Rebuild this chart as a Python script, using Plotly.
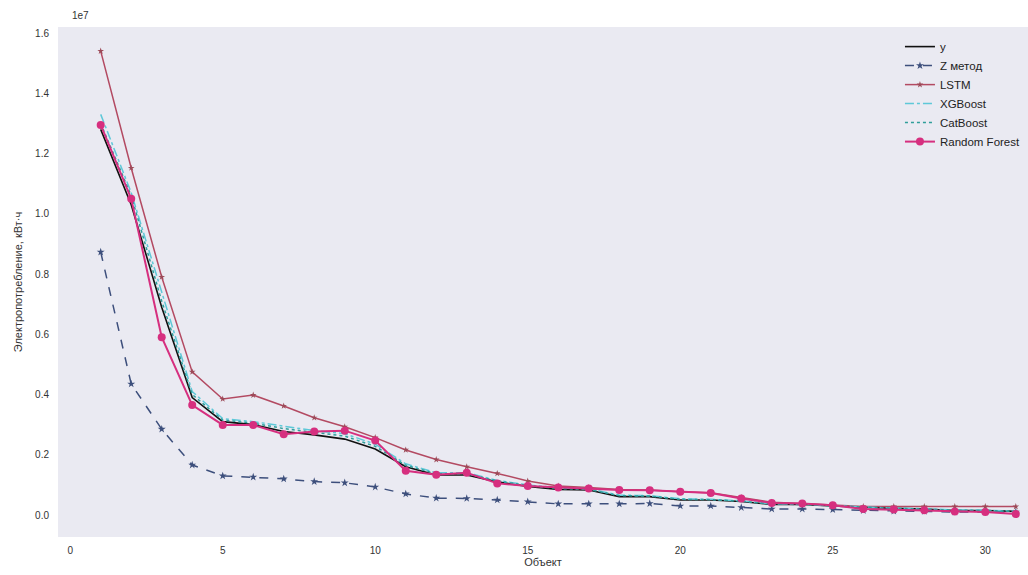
import plotly.graph_objects as go

# Electricity consumption per object, values in units of 1e7 kWh
objects = list(range(1, 32))

y_true = [1.28, 1.03, 0.69, 0.39, 0.31, 0.30, 0.277, 0.266, 0.252, 0.219, 0.16,
          0.133, 0.133, 0.11, 0.095, 0.085, 0.083, 0.061, 0.061, 0.05, 0.05,
          0.045, 0.035, 0.035, 0.03, 0.025, 0.022, 0.02, 0.015, 0.015, 0.012]

z_method = [0.873, 0.435, 0.285, 0.166, 0.13, 0.126, 0.12, 0.111, 0.107, 0.093,
            0.07, 0.056, 0.055, 0.05, 0.044, 0.037, 0.037, 0.037, 0.038, 0.03,
            0.03, 0.025, 0.02, 0.02, 0.018, 0.015, 0.013, 0.012, 0.01, 0.01, 0.01]

lstm = [1.54, 1.152, 0.79, 0.475, 0.385, 0.398, 0.362, 0.323, 0.293, 0.257,
        0.216, 0.184, 0.16, 0.138, 0.113, 0.096, 0.091, 0.085, 0.083, 0.077,
        0.074, 0.058, 0.042, 0.038, 0.033, 0.028, 0.028, 0.028, 0.028, 0.028, 0.028]

xgboost = [1.33, 1.07, 0.74, 0.41, 0.32, 0.31, 0.295, 0.28, 0.27, 0.235, 0.17,
           0.14, 0.14, 0.115, 0.1, 0.09, 0.087, 0.066, 0.064, 0.054, 0.052,
           0.047, 0.037, 0.036, 0.031, 0.026, 0.023, 0.021, 0.017, 0.016, 0.013]

catboost = [1.30, 1.06, 0.71, 0.40, 0.315, 0.305, 0.287, 0.274, 0.262, 0.228,
            0.165, 0.137, 0.137, 0.113, 0.098, 0.088, 0.085, 0.064, 0.063, 0.052,
            0.051, 0.046, 0.036, 0.035, 0.03, 0.025, 0.022, 0.02, 0.016, 0.015, 0.012]

random_forest = [1.295, 1.05, 0.59, 0.365, 0.299, 0.299, 0.268, 0.277, 0.28, 0.247,
                 0.147, 0.134, 0.14, 0.105, 0.096, 0.091, 0.088, 0.083, 0.082, 0.077,
                 0.073, 0.055, 0.04, 0.038, 0.032, 0.02, 0.018, 0.016, 0.012, 0.01, 0.003]

y_ticks = [0.0, 0.2, 0.4, 0.6, 0.8, 1.0, 1.2, 1.4, 1.6]
x_ticks = [0, 5, 10, 15, 20, 25, 30]

FONT = "Liberation Sans, Arial, sans-serif"

fig = go.Figure()

fig.add_trace(go.Scatter(x=objects, y=y_true, name="y", mode="lines",
                         line=dict(color="#111111", width=1.6)))
fig.add_trace(go.Scatter(x=objects, y=z_method, name="Z метод", mode="lines+markers",
                         line=dict(color="#3d4f7c", width=1.5, dash="dash"),
                         marker=dict(symbol="star", size=6, color="#3d4f7c")))
fig.add_trace(go.Scatter(x=objects, y=lstm, name="LSTM", mode="lines+markers",
                         line=dict(color="#b34a62", width=1.5),
                         marker=dict(symbol="star", size=5, color="#9c4a58")))
fig.add_trace(go.Scatter(x=objects, y=xgboost, name="XGBoost", mode="lines",
                         line=dict(color="#5ec8d8", width=1.5, dash="dashdot")))
fig.add_trace(go.Scatter(x=objects, y=catboost, name="CatBoost", mode="lines",
                         line=dict(color="#2f9e9a", width=1.5, dash="dot")))
fig.add_trace(go.Scatter(x=objects, y=random_forest, name="Random Forest",
                         mode="lines+markers",
                         line=dict(color="#d62f7f", width=2),
                         marker=dict(symbol="circle", size=8, color="#d62f7f")))

fig.update_layout(
    width=1028, height=575,
    margin=dict(l=58, r=0, t=27, b=38),
    paper_bgcolor="white",
    plot_bgcolor="#EAEAF2",
    font=dict(family=FONT, size=10, color="#333333"),
    showlegend=True,
    legend=dict(x=0.868, y=0.99, xanchor="left", yanchor="top",
                bgcolor="rgba(0,0,0,0)", font=dict(size=11.5, color="#222222"),
                tracegroupgap=0, itemwidth=30),
    xaxis=dict(range=[-0.4, 31.4], tickvals=x_ticks, ticktext=[str(t) for t in x_ticks],
               showgrid=False, zeroline=False, showline=False, ticks="",
               ticklabelstandoff=6,
               title=dict(text="Объект", standoff=2, font=dict(size=11))),
    yaxis=dict(range=[-0.073, 1.62], tickvals=y_ticks,
               ticktext=[f"{t:.1f}" for t in y_ticks],
               showgrid=False, zeroline=False, showline=False, ticks="",
               ticklabelstandoff=8,
               title=dict(text="Электропотребление, кВт·ч", standoff=10, font=dict(size=11))),
)

fig.add_annotation(text="1e7", xref="paper", yref="paper", x=0.012, y=1.0,
                   xanchor="left", yanchor="bottom", showarrow=False,
                   font=dict(size=10, color="#333333"), yshift=4)

fig.write_html("out.html")
